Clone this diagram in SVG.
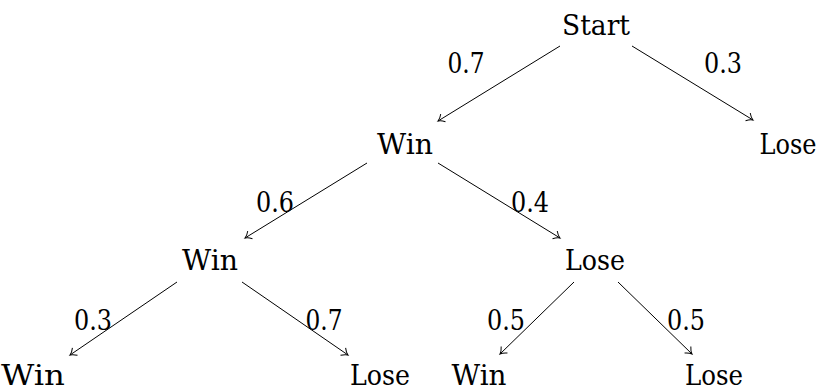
<svg xmlns="http://www.w3.org/2000/svg" width="820" height="389" viewBox="0 0 820 389">
<style>
text{font-family:'DejaVu Serif',serif;font-size:28px;fill:#000;text-anchor:middle}
.e{stroke:#000;stroke-width:1;fill:none;marker-end:url(#ah)}
</style>
<defs>
<marker id="ah" markerWidth="12" markerHeight="12" refX="9" refY="6" orient="auto" markerUnits="userSpaceOnUse">
<path d="M3,1.5 Q6,5 9,6 Q6,7 3,10.5" fill="none" stroke="#000" stroke-width="1"/>
</marker>
</defs>
<rect width="820" height="389" fill="#fff"/>
<g id="connectors">
<line class="e" x1="560" y1="46" x2="438" y2="121"/>
<line class="e" x1="632" y1="46" x2="753" y2="120"/>
<line class="e" x1="367" y1="163" x2="245" y2="238"/>
<line class="e" x1="438" y1="163" x2="560" y2="238"/>
<line class="e" x1="177" y1="282" x2="70" y2="355"/>
<line class="e" x1="242" y1="282" x2="348" y2="355"/>
<line class="e" x1="574" y1="282" x2="500" y2="354"/>
<line class="e" x1="618" y1="282" x2="692" y2="354"/>
</g>
<g id="labels">
<text x="466" y="73" textLength="37" lengthAdjust="spacingAndGlyphs">0.7</text>
<text x="723" y="73" textLength="38" lengthAdjust="spacingAndGlyphs">0.3</text>
<text x="275" y="212" textLength="38" lengthAdjust="spacingAndGlyphs">0.6</text>
<text x="530" y="212" textLength="38" lengthAdjust="spacingAndGlyphs">0.4</text>
<text x="93" y="330" textLength="38" lengthAdjust="spacingAndGlyphs">0.3</text>
<text x="324" y="330" textLength="37" lengthAdjust="spacingAndGlyphs">0.7</text>
<text x="506" y="330" textLength="38" lengthAdjust="spacingAndGlyphs">0.5</text>
<text x="686" y="330" textLength="38" lengthAdjust="spacingAndGlyphs">0.5</text>
</g>
<g id="n-start"><text x="596" y="35" textLength="68" lengthAdjust="spacingAndGlyphs">Start</text></g>
<g id="n-win1"><text x="405" y="154" textLength="56" lengthAdjust="spacingAndGlyphs">Win</text></g>
<g id="n-lose1"><text x="788" y="154" textLength="57" lengthAdjust="spacingAndGlyphs">Lose</text></g>
<g id="n-win2"><text x="210" y="270" textLength="56" lengthAdjust="spacingAndGlyphs">Win</text></g>
<g id="n-lose2"><text x="595" y="270" textLength="60" lengthAdjust="spacingAndGlyphs">Lose</text></g>
<g id="n-win3"><text x="33" y="385" textLength="64" lengthAdjust="spacingAndGlyphs">Win</text></g>
<g id="n-lose3"><text x="380" y="385" textLength="60" lengthAdjust="spacingAndGlyphs">Lose</text></g>
<g id="n-win4"><text x="479" y="385" textLength="55" lengthAdjust="spacingAndGlyphs">Win</text></g>
<g id="n-lose4"><text x="714" y="385" textLength="58" lengthAdjust="spacingAndGlyphs">Lose</text></g>
</svg>
